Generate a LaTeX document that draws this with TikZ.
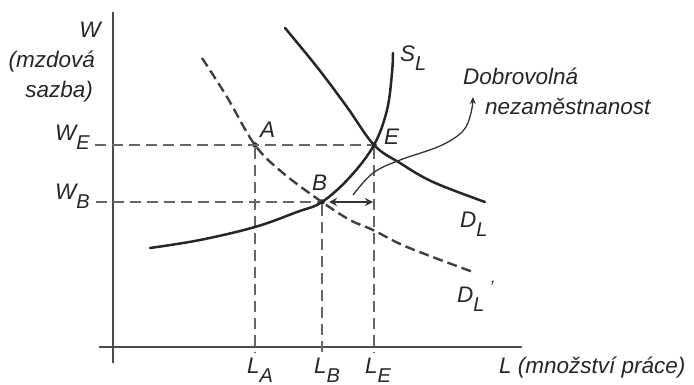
\documentclass[tikz,border=0pt]{standalone}
\usepackage{fontspec}
\setmainfont{Liberation Sans}
\usetikzlibrary{arrows.meta}
\newcommand{\sbs}[1]{\raisebox{-9pt}{\fontsize{20}{20}\selectfont #1}}
\tikzset{
  lbl/.style={inner sep=0pt, font=\fontsize{22.5}{24}\selectfont\itshape, text=black!85},
  axis/.style={line width=1.7pt, draw=black!70},
  curve/.style={line width=2.5pt, draw=black!85, line cap=round},
  dcurve/.style={line width=2.4pt, draw=black!75, dash pattern=on 10pt off 5pt},
  guide/.style={line width=1.6pt, draw=black!60, dash pattern=on 11pt off 6pt},
  pt/.style={circle, fill=black!85, inner sep=0pt, minimum size=5.5pt},
}
\begin{document}
\begin{tikzpicture}[x=1pt,y=-1pt]
\useasboundingbox (0,0) rectangle (694,385);
% points
\node[pt] (A) at (255,145) {};
\node[pt] (B) at (322,202) {};
\node[pt] (E) at (374,145) {};
\coordinate (yT) at (113,12);
\coordinate (yB) at (113,363);
\coordinate (xL) at (99,347);
\coordinate (xR) at (522,347);
\coordinate (WE0) at (95,145);
\coordinate (WB0) at (96,202);
\coordinate (LA0) at (255,353);
\coordinate (LB0) at (322,353);
\coordinate (LE0) at (374,353);
% axes
\draw[axis] (yT) -- (yB);
\draw[axis] (xL) -- (xR);
% guides
\draw[guide] (WE0) -- (E);
\draw[guide] (WB0) -- (B);
\draw[guide] (A) -- (LA0);
\draw[guide] (B) -- (LB0);
\draw[guide] (E) -- (LE0);
% D_L
\draw[curve] plot[smooth, tension=0.6] coordinates {(285,28) (317,67) (347,107) (374,145) (400,163) (433,182) (485,202)};
% D_L'
\draw[dcurve] plot[smooth, tension=0.6] coordinates {(202,58) (227,97) (255,145) (283,173) (322,202) (350,220) (373,230) (407,247) (473,272)};
% S_L
\draw[curve] plot[smooth, tension=0.6] coordinates {(150,248) (200,240) (255,227) (297,212) (322,202) (350,177) (374,145) (387,110) (392,73) (393,53)};
% double arrow
\coordinate (da1) at (329,202);
\coordinate (da2) at (373,202);
\draw[line width=1.8pt, draw=black!80, {Stealth[length=8pt,width=8pt]}-{Stealth[length=8pt,width=8pt]}] (da1) -- (da2);
% curved arrow
\coordinate (ca1) at (353,195);
\coordinate (ca2) at (473,97);
\draw[line width=1.3pt, draw=black!80, -{Stealth[length=7pt,width=6pt]}] plot[smooth, tension=0.6] coordinates {(ca1) (373,173) (400,160) (440,146) (463,131) (471,113) (ca2)};
% labels
\node[lbl, anchor=base] (Wl) at (90,38) {W};
\node[lbl, anchor=base east] (mz) at (95,68) {(mzdová};
\node[lbl, anchor=base east] (sz) at (93,98) {sazba)};
\node[lbl, anchor=base east] (WEl) at (90,141) {W\sbs{E}};
\node[lbl, anchor=base east] (WBl) at (90,200) {W\sbs{B}};
\node[lbl, anchor=base west] (LAl) at (247,373) {L\sbs{A}};
\node[lbl, anchor=base west] (LBl) at (314,373) {L\sbs{B}};
\node[lbl, anchor=base west] (LEl) at (365,373) {L\sbs{E}};
\node[lbl, anchor=base west] (Ll) at (499,373) {L (množství práce)};
\node[lbl, anchor=base west] (DLl) at (460,228) {D\sbs{L}};
\node[lbl, anchor=base west] (DLpl) at (457,302) {D\sbs{L}\hspace{5pt}\raisebox{9pt}{\fontsize{18}{18}\selectfont\char"2019}};
\node[lbl, anchor=base west] (SLl) at (400,62) {S\sbs{L}};
\node[lbl, anchor=base west] (Al) at (260,138) {A};
\node[lbl, anchor=base west] (Bl) at (312,190) {B};
\node[lbl, anchor=base west] (El) at (384,145) {E};
\node[lbl, anchor=base west] (dob) at (463,85) {Dobrovolná};
\node[lbl, anchor=base west] (nez) at (485,115) {nezaměstnanost};
\end{tikzpicture}
\end{document}
